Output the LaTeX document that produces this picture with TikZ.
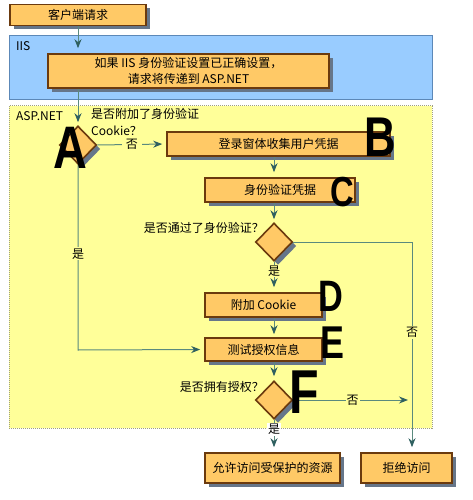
\documentclass[tikz,border=0pt]{standalone}
\usepackage{fontspec}
\setmainfont{Noto Sans CJK SC}
\newfontfamily\handfont{Liberation Sans}
\usetikzlibrary{shapes.geometric,shadows,arrows.meta,calc}
\definecolor{boxfill}{HTML}{FFC966}
\definecolor{boxline}{HTML}{6B3A0E}
\definecolor{shadowc}{HTML}{66768A}
\definecolor{iisfill}{HTML}{99CCFF}
\definecolor{iisline}{HTML}{5C88B8}
\definecolor{aspfill}{HTML}{FFFF99}
\definecolor{aspline}{HTML}{A0A080}
\definecolor{linec}{HTML}{5A8A7E}
\definecolor{tipc}{HTML}{2F6060}
\begin{document}
\begin{tikzpicture}[x=1pt,y=-1pt,
  shad/.style={drop shadow={shadow xshift=4pt,shadow yshift=-4pt,fill=shadowc,opacity=1}},
  box/.style={rectangle,draw=boxline,line width=1.6pt,fill=boxfill,shad,
    font=\fontsize{12}{15}\selectfont,inner sep=0pt,align=center},
  dia/.style={diamond,draw=boxline,line width=1.6pt,fill=boxfill,shad,
    minimum width=37pt,minimum height=38pt,inner sep=0pt},
  arr/.style={draw=linec,line width=1pt,-{Stealth[length=9pt,width=7pt,color=tipc]}},
  plain/.style={draw=linec,line width=1pt},
  lbl/.style={font=\fontsize{12}{17}\selectfont,inner sep=1pt},
  hand/.style={font=\handfont\bfseries\fontsize{#1}{#1}\selectfont,text=black,inner sep=0pt,xscale=0.78},
]
\useasboundingbox (0,0) rectangle (473,500);
% containers
\node[draw=iisline,fill=iisfill,line width=0.8pt,minimum width=423pt,minimum height=64pt,inner sep=0pt] (iis) at (220.5,67) {};
\node[lbl,anchor=west] (iislbl) at (15,46) {IIS};
\node[draw=aspline,densely dotted,fill=aspfill,line width=1pt,minimum width=423pt,minimum height=322pt,inner sep=0pt] (asp) at (220.5,267) {};
\node[lbl,anchor=west] (asplbl) at (15,116) {ASP.NET};
% boxes
\node[box,minimum width=136pt,minimum height=21pt] (client) at (78,15) {客户端请求};
\node[box,minimum width=281pt,minimum height=34pt,font=\fontsize{12}{16}\selectfont] (pass) at (188.5,71) {如果 IIS 身份验证设置已正确设置，\\请求将传递到 ASP.NET};
\node[dia] (dA) at (78,145) {};
\node[lbl,anchor=north west,align=left] (q1) at (90,107) {是否附加了身份验证\\Cookie？};
\node[box,minimum width=223pt,minimum height=24pt] (login) at (278.5,144) {登录窗体收集用户凭据};
\node[box,minimum width=150pt,minimum height=24pt] (cred) at (280,190) {身份验证凭据};
\node[dia] (dB) at (274,242) {};
\node[lbl,anchor=east] (q2) at (265,228) {是否通过了身份验证？};
\node[box,minimum width=117pt,minimum height=24pt] (cookie) at (263.5,305) {附加 Cookie};
\node[box,minimum width=117pt,minimum height=23pt] (test) at (263.5,349.5) {测试授权信息};
\node[dia] (dC) at (274,400) {};
\node[lbl,anchor=east] (q3) at (265,387) {是否拥有授权？};
\node[box,minimum width=135pt,minimum height=30pt] (allow) at (272.5,468) {允许访问受保护的资源};
\node[box,minimum width=91pt,minimum height=30pt] (deny) at (406.5,468) {拒绝访问};
% corner coordinates
\coordinate (nA) at (412,242);
\coordinate (nC) at (412,400);
\coordinate (yA) at (78,350);
% connectors
\draw[arr,shorten >=5pt] (client.south -| dA.north) -- (pass.north -| dA.north);
\draw[arr,shorten >=3pt] (pass.south -| dA.north) -- (dA.north);
\draw[arr,shorten >=4pt] (dA.east) -- node[lbl,fill=aspfill,inner xsep=4pt] (noA) {否} (login.west);
\draw[arr,shorten >=5pt] (login.south -| dB.north) -- (cred.north -| dB.north);
\draw[arr,shorten >=3pt] (cred.south -| dB.north) -- (dB.north);
\draw[arr,shorten >=5pt] (dB.south) -- node[lbl,fill=aspfill,pos=0.3] (yesB) {是} (cookie.north -| dB.south);
\draw[arr,shorten >=3pt] (cookie.south -| dB.south) -- (test.north -| dB.south);
\draw[arr,shorten >=4pt] (test.south -| dC.north) -- (dC.north);
\draw[arr,shorten >=5pt] (dC.south) -- node[lbl,fill=white,pos=0.3] (yesC) {是} (allow.north -| dC.south);
\draw[arr,shorten >=5pt] (dB.east) -- (nA) -- node[lbl,fill=aspfill,pos=0.43] (noB) {否} (deny.north -| nA);
\draw[arr,shorten >=4pt] (dC.east) -- node[lbl,fill=aspfill,pos=0.5] (noC) {否} (nC);
\draw[arr,shorten >=4pt] (dA.south) -- node[lbl,fill=aspfill,pos=0.48] (yesA) {是} (yA) -- (test.west);
% handwritten letters
\node[hand=60] (la) at (70,148) {A};
\node[hand=56] (lb) at (380,137) {B};
\node[hand=42] (lc) at (342,192) {C};
\node[hand=44] (ld) at (331,296) {D};
\node[hand=46] (le) at (332,343) {E};
\node[hand=62] (lf) at (304,392) {F};
\end{tikzpicture}
\end{document}
